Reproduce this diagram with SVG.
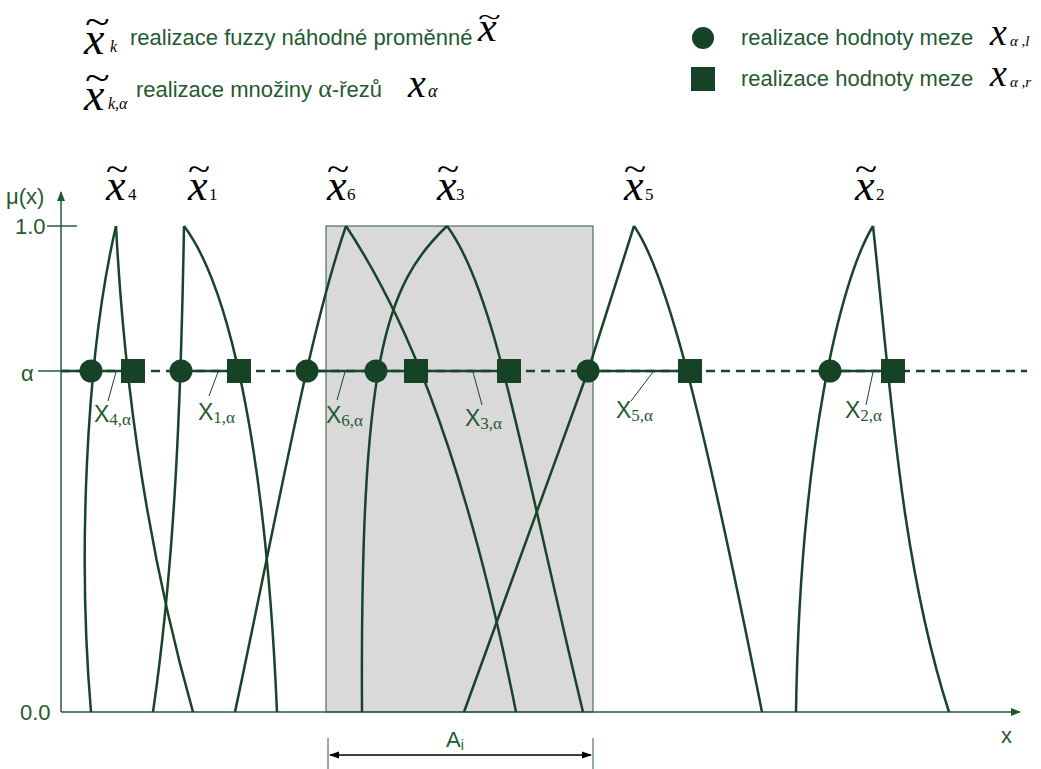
<svg xmlns="http://www.w3.org/2000/svg" width="1041" height="769" viewBox="0 0 1041 769">
<style>
.crv{fill:none;stroke:#17442a;stroke-width:2.5}
.ax{fill:none;stroke:#2a5a38;stroke-width:1.5}
.lead{fill:none;stroke:#17442a;stroke-width:1}
.mk{fill:#164226}
.lg{font-family:"Liberation Sans",Arial,sans-serif;font-size:22px;fill:#1f5a32}
.ms{font-family:"Liberation Serif","Times New Roman",serif;font-style:italic;fill:#000}
.sub{font-family:"Liberation Serif","Times New Roman",serif;fill:#000}
.til{font-family:"Liberation Serif","Times New Roman",serif;fill:#000}
.xl{font-family:"Liberation Sans",Arial,sans-serif;font-size:23px;fill:#1f5a32}
.xs{font-family:"Liberation Serif","Times New Roman",serif;font-size:17px;fill:#1f5a32}
.axl{font-family:"Liberation Sans",Arial,sans-serif;font-size:22px;fill:#1f5a32}
</style>
<defs>
<marker id="ah" markerWidth="10" markerHeight="10" refX="9" refY="5" orient="auto" markerUnits="userSpaceOnUse">
<path d="M0,1 L10,5 L0,9 Z" fill="#1f5a32"/>
</marker>
<marker id="dh" markerWidth="10" markerHeight="10" refX="9" refY="5" orient="auto-start-reverse" markerUnits="userSpaceOnUse">
<path d="M0,1.5 L10,5 L0,8.5 Z" fill="#000"/>
</marker>
</defs>

<g id="legend-left">
<text class="til" x="85" y="34" font-size="38" transform="translate(85,0) scale(1.2,1) translate(-85,0)">~</text>
<text class="ms" x="84" y="54" font-size="46">x</text>
<text class="ms" x="110" y="52" font-size="16">k</text>
<text class="lg" x="130" y="45">realizace fuzzy náhodné proměnné</text>
<text class="til" transform="translate(478,25) scale(1.4,0.85)" font-size="30">~</text>
<text class="ms" x="478" y="41" font-size="42">x</text>

<text class="til" x="85" y="90" font-size="38" transform="translate(85,0) scale(1.2,1) translate(-85,0)">~</text>
<text class="ms" x="84" y="110" font-size="46">x</text>
<text class="ms" x="108" y="109" font-size="16">k,α</text>
<text class="lg" x="136" y="97">realizace množiny  <tspan font-family="Liberation Serif,serif" font-size="26">α</tspan>-řezů</text>
<text class="ms" x="408" y="97" font-size="40">x</text>
<text class="ms" x="428" y="97" font-size="18">α</text>
</g>

<g id="legend-right">
<circle class="mk" cx="703" cy="38" r="11"/>
<text class="lg" x="741" y="45">realizace hodnoty meze</text>
<text class="ms" x="990" y="45" font-size="38">x</text>
<text class="ms" x="1010" y="46" font-size="15">α ,l</text>
<rect class="mk" x="691" y="67" width="24" height="24"/>
<text class="lg" x="741" y="86">realizace hodnoty meze</text>
<text class="ms" x="990" y="86" font-size="38">x</text>
<text class="ms" x="1010" y="87" font-size="15">α ,r</text>
</g>

<g id="region-A">
<rect x="326" y="226" width="267" height="486" fill="#d9d9d9" stroke="#2d5a3a" stroke-width="1"/>
</g>

<g id="axes">
<line class="ax" x1="61" y1="712" x2="61" y2="192" marker-end="url(#ah)"/>
<line class="ax" x1="61" y1="712" x2="1020" y2="712" marker-end="url(#ah)"/>
<line class="ax" x1="47" y1="226" x2="77" y2="226"/>
<line class="ax" x1="38" y1="371" x2="61" y2="371" stroke-width="1"/>
<text class="axl" x="6" y="204" font-size="23">μ(x)</text>
<text class="axl" x="15" y="234">1.0</text>
<text class="axl" x="21" y="381" font-family="Liberation Serif,serif" font-size="28">α</text>
<text class="axl" x="20" y="720" font-size="21">0.0</text>
<text class="axl" x="1001" y="743">x</text>
</g>

<g id="curve-x4">
<path class="crv" d="M91,712 C78,560 85,360 116,226"/>
<path class="crv" d="M116,226 C125,400 150,560 193,712"/>
<text class="til" x="106" y="180" font-size="34" transform="translate(106,0) scale(1.2,1) translate(-106,0)">~</text>
<text class="ms" x="106" y="200" font-size="44">x</text>
<text class="sub" x="128" y="200" font-size="17">4</text>
</g>
<g id="curve-x1">
<path class="crv" d="M184,226 C181,400 175,560 153,712"/>
<path class="crv" d="M184,226 C225,280 265,430 277,712"/>
<text class="til" x="188" y="180" font-size="34" transform="translate(188,0) scale(1.2,1) translate(-188,0)">~</text>
<text class="ms" x="188" y="200" font-size="44">x</text>
<text class="sub" x="209" y="200" font-size="17">1</text>
</g>
<g id="curve-x6">
<path class="crv" d="M235,712 C280,500 310,330 346,226"/>
<path class="crv" d="M346,226 C395,300 460,430 516,712"/>
<text class="til" x="327" y="180" font-size="34" transform="translate(327,0) scale(1.2,1) translate(-327,0)">~</text>
<text class="ms" x="327" y="200" font-size="44">x</text>
<text class="sub" x="347" y="200" font-size="17">6</text>
</g>
<g id="curve-x3">
<path class="crv" d="M447,226 C385,285 360,360 362,712"/>
<path class="crv" d="M447,226 C495,290 520,450 583,712"/>
<text class="til" x="437" y="180" font-size="34" transform="translate(437,0) scale(1.2,1) translate(-437,0)">~</text>
<text class="ms" x="437" y="200" font-size="44">x</text>
<text class="sub" x="456" y="200" font-size="17">3</text>
</g>
<g id="curve-x5">
<path class="crv" d="M464,712 L588,371 L634,226"/>
<path class="crv" d="M634,226 C665,270 700,400 762,712"/>
<text class="til" x="624" y="180" font-size="34" transform="translate(624,0) scale(1.2,1) translate(-624,0)">~</text>
<text class="ms" x="624" y="200" font-size="44">x</text>
<text class="sub" x="645" y="200" font-size="17">5</text>
</g>
<g id="curve-x2">
<path class="crv" d="M873,226 C840,280 800,450 796,712"/>
<path class="crv" d="M873,226 C890,380 900,560 949,712"/>
<text class="til" x="855" y="180" font-size="34" transform="translate(855,0) scale(1.2,1) translate(-855,0)">~</text>
<text class="ms" x="855" y="200" font-size="44">x</text>
<text class="sub" x="876" y="200" font-size="17">2</text>
</g>

<g id="connectors">
<line x1="61" y1="371" x2="1027" y2="371" stroke="#17442a" stroke-width="2.5" stroke-dasharray="9,6"/>
<g stroke="#17442a" stroke-width="2.5">
<line x1="61" y1="371" x2="82" y2="371"/>
<line x1="91" y1="371" x2="133" y2="371"/>
<line x1="181" y1="371" x2="239" y2="371"/>
<line x1="307" y1="371" x2="509" y2="371"/>
<line x1="588" y1="371" x2="690" y2="371"/>
<line x1="830" y1="371" x2="893" y2="371"/>
</g>
<line class="lead" x1="116" y1="372" x2="108" y2="401"/>
<line class="lead" x1="218" y1="372" x2="209" y2="396"/>
<line class="lead" x1="345" y1="372" x2="337" y2="400"/>
<line class="lead" x1="473" y1="372" x2="482" y2="405"/>
<line class="lead" x1="653" y1="372" x2="631" y2="401"/>
<line class="lead" x1="873" y1="372" x2="866" y2="405"/>
<line x1="328" y1="738" x2="328" y2="769" stroke="#2a5a38" stroke-width="1"/>
<line x1="593" y1="738" x2="593" y2="769" stroke="#2a5a38" stroke-width="1"/>
<line x1="330" y1="755" x2="591" y2="755" stroke="#000" stroke-width="1.5" marker-start="url(#dh)" marker-end="url(#dh)"/>
</g>

<g id="markers">
<circle class="mk" cx="91" cy="371" r="11.5"/>
<circle class="mk" cx="181" cy="371" r="11.5"/>
<circle class="mk" cx="307" cy="371" r="11.5"/>
<circle class="mk" cx="376" cy="371" r="11.5"/>
<circle class="mk" cx="588" cy="371" r="11.5"/>
<circle class="mk" cx="830" cy="371" r="11.5"/>
<rect class="mk" x="121" y="359" width="24" height="24"/>
<rect class="mk" x="227" y="359" width="24" height="24"/>
<rect class="mk" x="404" y="359" width="24" height="24"/>
<rect class="mk" x="497" y="359" width="24" height="24"/>
<rect class="mk" x="678" y="359" width="24" height="24"/>
<rect class="mk" x="881" y="359" width="24" height="24"/>
</g>

<g id="labels">
<text class="xl" x="94" y="422">X<tspan class="xs" dy="3">4,α</tspan></text>
<text class="xl" x="198" y="420">X<tspan class="xs" dy="3">1,α</tspan></text>
<text class="xl" x="326" y="423">X<tspan class="xs" dy="3">6,α</tspan></text>
<text class="xl" x="465" y="426">X<tspan class="xs" dy="3">3,α</tspan></text>
<text class="xl" x="616" y="418">X<tspan class="xs" dy="3">5,α</tspan></text>
<text class="xl" x="845" y="418">X<tspan class="xs" dy="3">2,α</tspan></text>
<text class="axl" x="446" y="747">A<tspan font-size="14" dy="3">i</tspan></text>
</g>
</svg>
